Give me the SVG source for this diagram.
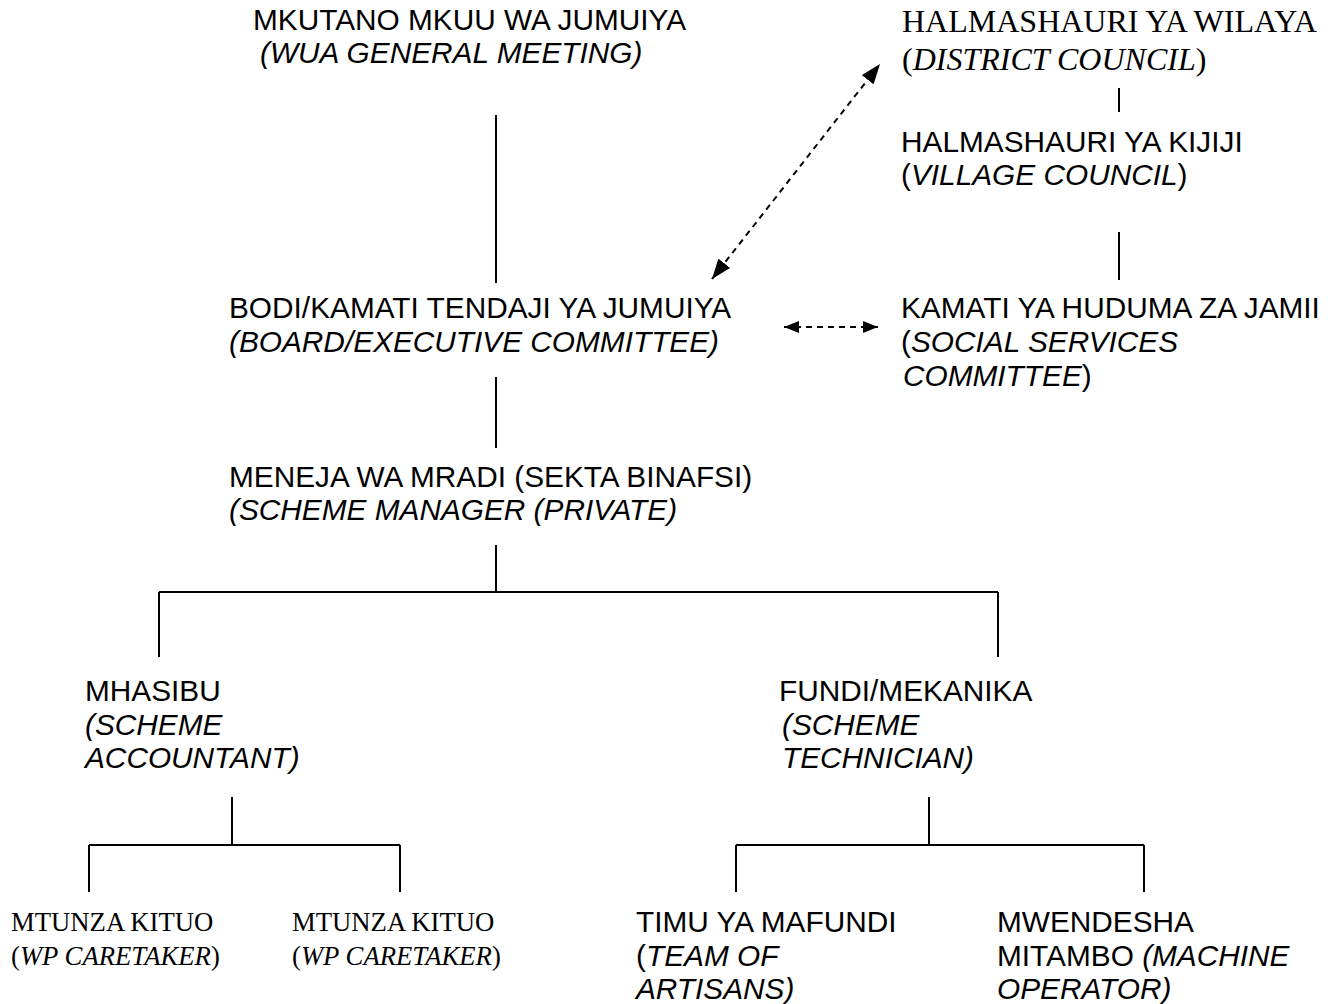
<svg xmlns="http://www.w3.org/2000/svg" width="1341" height="1004" viewBox="0 0 1341 1004">
<defs>
<style>
text{font-family:"Liberation Sans",Arial,sans-serif;font-size:29.8px;fill:#000}
.t{font-family:"Liberation Serif","Times New Roman",serif;font-size:32px}
.t2{font-family:"Liberation Serif","Times New Roman",serif;font-size:26.7px}
.i{font-style:italic}
.ln{stroke:#000;stroke-width:2;fill:none}
.da{stroke:#000;stroke-width:2;fill:none;stroke-dasharray:6 5}
</style>
<marker id="ahd" viewBox="0 0 20 15" refX="20" refY="7.5" markerWidth="20" markerHeight="15" markerUnits="userSpaceOnUse" orient="auto-start-reverse">
<path d="M0,0 L20,7.5 L0,15 z" fill="#000"/>
</marker>
<marker id="ahh" viewBox="0 0 15 12" refX="15" refY="6" markerWidth="15" markerHeight="12" markerUnits="userSpaceOnUse" orient="auto-start-reverse">
<path d="M0,0 L15,6 L0,12 z" fill="#000"/>
</marker>
</defs>
<rect width="1341" height="1004" fill="#fff"/>
<g id="connectors">
<line class="ln" x1="496" y1="115" x2="496" y2="283"/>
<line class="ln" x1="496" y1="377" x2="496" y2="448"/>
<line class="ln" x1="496" y1="545" x2="496" y2="592"/>
<line class="ln" x1="159" y1="592" x2="998" y2="592"/>
<line class="ln" x1="159" y1="592" x2="159" y2="657"/>
<line class="ln" x1="998" y1="592" x2="998" y2="657"/>
<line class="ln" x1="232" y1="797" x2="232" y2="845"/>
<line class="ln" x1="89" y1="845" x2="400" y2="845"/>
<line class="ln" x1="89" y1="845" x2="89" y2="892"/>
<line class="ln" x1="400" y1="845" x2="400" y2="892"/>
<line class="ln" x1="929" y1="797" x2="929" y2="845"/>
<line class="ln" x1="736" y1="845" x2="1144" y2="845"/>
<line class="ln" x1="736" y1="845" x2="736" y2="892"/>
<line class="ln" x1="1144" y1="845" x2="1144" y2="892"/>
<line class="ln" x1="1119" y1="88" x2="1119" y2="112"/>
<line class="ln" x1="1119" y1="232" x2="1119" y2="280"/>
<line class="da" x1="712" y1="279" x2="880" y2="64" marker-start="url(#ahd)" marker-end="url(#ahd)"/>
<line class="da" x1="784" y1="327" x2="878" y2="327" marker-start="url(#ahh)" marker-end="url(#ahh)"/>
</g>
<g id="n-general-meeting">
<text x="253" y="30">MKUTANO MKUU WA JUMUIYA</text>
<text x="260" y="63" class="i">(WUA GENERAL MEETING)</text>
</g>
<g id="n-district">
<text x="902" y="32" class="t">HALMASHAURI YA WILAYA</text>
<text x="902" y="70" class="t">(<tspan class="i">DISTRICT COUNCIL</tspan>)</text>
</g>
<g id="n-village">
<text x="901" y="152">HALMASHAURI YA KIJIJI</text>
<text x="901" y="185">(<tspan class="i">VILLAGE COUNCIL</tspan>)</text>
</g>
<g id="n-board">
<text x="229" y="318">BODI/KAMATI TENDAJI YA JUMUIYA</text>
<text x="229" y="352" class="i">(BOARD/EXECUTIVE COMMITTEE)</text>
</g>
<g id="n-social">
<text x="901" y="318">KAMATI YA HUDUMA ZA JAMII</text>
<text x="901" y="352">(<tspan class="i">SOCIAL SERVICES</tspan></text>
<text x="903" y="386"><tspan class="i">COMMITTEE</tspan>)</text>
</g>
<g id="n-manager">
<text x="229" y="487">MENEJA WA MRADI (SEKTA BINAFSI)</text>
<text x="229" y="520" class="i">(SCHEME MANAGER (PRIVATE)</text>
</g>
<g id="n-accountant">
<text x="85" y="701">MHASIBU</text>
<text x="85" y="735" class="i">(SCHEME</text>
<text x="85" y="768" class="i">ACCOUNTANT)</text>
</g>
<g id="n-technician">
<text x="779" y="701">FUNDI/MEKANIKA</text>
<text x="782" y="735" class="i">(SCHEME</text>
<text x="782" y="768" class="i">TECHNICIAN)</text>
</g>
<g id="n-caretaker1">
<text x="11" y="931" class="t2">MTUNZA KITUO</text>
<text x="11" y="965" class="t2">(<tspan class="i">WP CARETAKER</tspan>)</text>
</g>
<g id="n-caretaker2">
<text x="292" y="931" class="t2">MTUNZA KITUO</text>
<text x="292" y="965" class="t2">(<tspan class="i">WP CARETAKER</tspan>)</text>
</g>
<g id="n-artisans">
<text x="636" y="932">TIMU YA MAFUNDI</text>
<text x="636" y="966">(<tspan class="i">TEAM OF</tspan></text>
<text x="636" y="999" class="i">ARTISANS)</text>
</g>
<g id="n-operator">
<text x="997" y="932">MWENDESHA</text>
<text x="997" y="966">MITAMBO <tspan class="i">(MACHINE</tspan></text>
<text x="997" y="999" class="i">OPERATOR)</text>
</g>
</svg>
